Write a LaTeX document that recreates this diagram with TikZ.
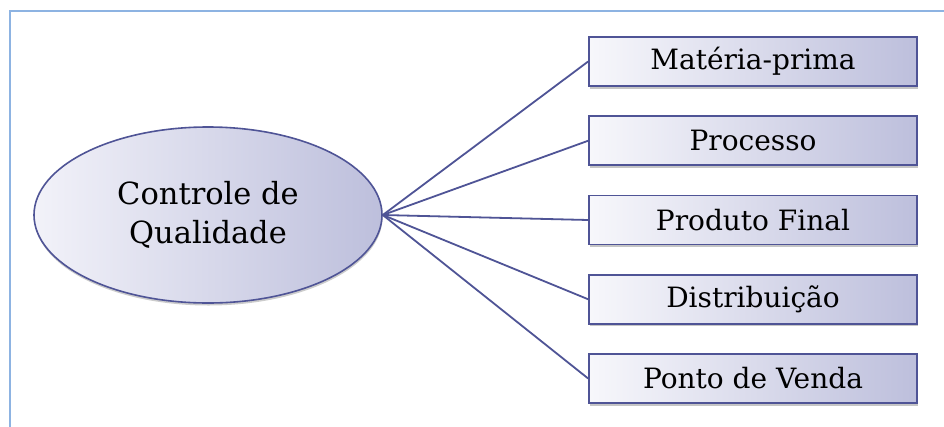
\documentclass[tikz,border=0pt]{standalone}
\usepackage{fontspec}
\setmainfont{DejaVu Serif}
\usetikzlibrary{shapes.geometric,shadows}
\definecolor{frameblue}{HTML}{8DB3E2}
\definecolor{edgeblue}{HTML}{4F5496}
\definecolor{lightfill}{HTML}{F2F2F9}
\definecolor{darkfill}{HTML}{BDBFDC}
\tikzset{
  hub/.style={ellipse, draw=edgeblue, line width=1.6pt, minimum width=348pt,
    minimum height=176pt, inner sep=0pt, align=center,
    left color=lightfill, right color=darkfill,
    font=\fontsize{30.5}{39}\selectfont,
    drop shadow={shadow xshift=0.5pt, shadow yshift=-2.5pt, opacity=0.4}},
  item/.style={rectangle, draw=edgeblue, line width=1.7pt, minimum width=328pt,
    minimum height=49pt, inner sep=0pt,
    left color=lightfill!60!white, right color=darkfill,
    font=\fontsize{28}{32}\selectfont,
    drop shadow={shadow xshift=1pt, shadow yshift=-2.5pt, opacity=0.45}},
  link/.style={draw=edgeblue, line width=1.8pt}
}
\begin{document}
\begin{tikzpicture}[x=1pt,y=-1pt]
  \useasboundingbox (0,0) rectangle (944,426);
  \fill[white] (0,0) rectangle (944,426);
  % outer frame, running past the right and bottom edges
  \begin{scope}
    \clip (0,0) rectangle (944,426);
    \draw[frameblue, line width=1.4pt] (10,440) -- (10,11) -- (960,11);
  \end{scope}
  \node[hub] (cq) at (208,215) {Controle de\\Qualidade};
  \node[item] (b1) at (753,61.5)  {Matéria-prima};
  \node[item] (b2) at (753,140.75) {Processo};
  \node[item] (b3) at (753,220)   {Produto Final};
  \node[item] (b4) at (753,299.25) {Distribuição};
  \node[item] (b5) at (753,378.5) {Ponto de Venda};
  \foreach \b in {b1,b2,b3,b4,b5}
    \draw[link] (cq.east) -- (\b.west);
\end{tikzpicture}
\end{document}
